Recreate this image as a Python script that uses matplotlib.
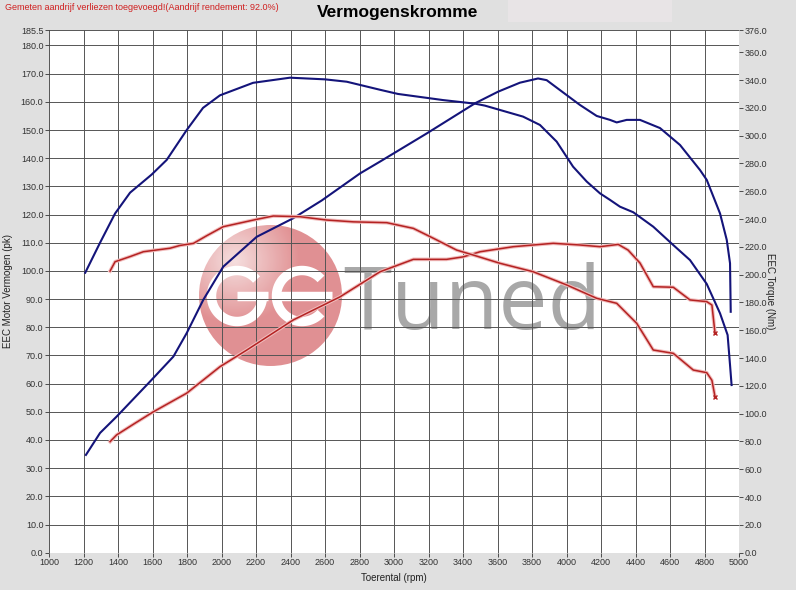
import matplotlib
matplotlib.use('Agg')
import matplotlib.pyplot as plt
import matplotlib.patheffects as pe
from matplotlib.patches import Ellipse, Rectangle
from matplotlib.lines import Line2D
from matplotlib.transforms import IdentityTransform
import numpy as np

plt.rcParams['font.family'] = ['Liberation Sans', 'DejaVu Sans']

# tuned (blue) power, pk
blue_pwr_rpm = [1214, 1296, 1392, 1585, 1721, 1798, 1894, 2010, 2204, 2416, 2581, 2803, 2919,
                3190, 3470, 3603, 3730, 3835, 3885, 4001, 4078, 4175, 4252, 4291, 4349, 4426,
                4542, 4658, 4774, 4813, 4890, 4929, 4948, 4952]
blue_pwr = [34.7, 42.5, 48.3, 60.7, 69.6, 77.9, 89.7, 101.5, 112.1, 118.7, 125.0, 134.6, 138.8,
            148.8, 159.5, 163.6, 166.8, 168.3, 167.7, 162.4, 158.9, 155.0, 153.6, 152.7, 153.6, 153.6,
            150.7, 144.7, 135.8, 132.3, 120.4, 111.0, 102.7, 85.5]

# tuned (blue) torque, Nm
blue_trq_rpm = [1210, 1296, 1383, 1470, 1595, 1682, 1798, 1893, 1991, 2183, 2397, 2600, 2726,
                2919, 3023, 3284, 3470, 3527, 3748, 3846, 3943, 4038, 4117, 4194, 4252, 4310,
                4387, 4503, 4619, 4716, 4813, 4890, 4934, 4948, 4957]
blue_trq = [201.4, 223, 244, 259, 272, 282.5, 304, 320, 329, 338, 341.7, 340.5, 338.8,
            333, 330, 325.6, 323, 321.6, 313.7, 307.7, 295.7, 277.7, 267, 258.5, 253.8, 248.9,
            244.9, 234.5, 221.3, 210.5, 193.3, 172.2, 156.6, 135, 120.6]

# stock (red) power, pk
red_pwr_rpm = [1354, 1392, 1500, 1605, 1798, 1991, 2146, 2300, 2416, 2687, 2919, 3112, 3305,
               3402, 3499, 3692, 3923, 4078, 4194, 4300, 4357, 4426, 4503, 4619, 4716, 4813,
               4843, 4861]
red_pwr = [39.4, 41.8, 46.0, 50.0, 56.6, 66.0, 71.9, 78.0, 82.6, 90.8, 99.7, 104.1, 104.1,
           105.0, 106.8, 108.6, 109.8, 109.2, 108.6, 109.4, 107.4, 102.8, 94.4, 94.2, 89.7, 89.1,
           87.9, 77.9]

# stock (red) torque, Nm
red_trq_rpm = [1354, 1383, 1470, 1547, 1701, 1759, 1837, 1914, 2010, 2204, 2300, 2455, 2610,
               2764, 2958, 3112, 3228, 3363, 3460, 3614, 3807, 4001, 4175, 4291, 4407, 4503,
               4619, 4735, 4813, 4843, 4861]
red_trq = [202.6, 209.3, 213, 216.5, 219, 221, 222.5, 228, 234.5, 239.8, 242.2, 241.7, 239.3,
           238, 237.4, 233.3, 226.2, 217.7, 214.1, 208.2, 202.1, 192.6, 183, 179.4, 165, 145.8,
           143.4, 131.4, 129.5, 124, 112.2]

x_ticks = list(range(1000, 5001, 200))
left_ticks = list(range(0, 181, 10)) + [185.5]
right_ticks = list(range(0, 361, 20)) + [376]

bg = '#e0e0e0'
W, H = 796, 590
fig = plt.figure(figsize=(W/100, H/100), dpi=100, facecolor=bg)
ax = fig.add_axes([49/W, (H-552.7)/H, 690/W, 522.7/H])
ax.set_facecolor('white')
ax2 = ax.twinx()

ax.set_xlim(1000, 5000)
ax.set_ylim(0, 185.5)
ax2.set_ylim(0, 376)
ax.set_xticks(x_ticks)
ax.set_yticks(left_ticks)
ax.set_yticklabels(['%.1f' % t for t in left_ticks])
ax2.set_yticks(right_ticks)
ax2.set_yticklabels(['%.1f' % t for t in right_ticks])
ax.grid(True, color='#555555', linewidth=0.7)
ax.set_axisbelow(False)
for a in (ax, ax2):
    for s in a.spines.values():
        s.set_visible(False)
    a.tick_params(labelsize=6.5, colors='#333333', length=3, width=0.6, pad=1)

# logo (watermark)
ell_w, ell_h = 2*71.5/690, 2*70.5/522.7
cx, cy = (270.5-49)/690, (552.7-295.5)/522.7
circ = Ellipse((cx, cy), ell_w, ell_h, transform=ax.transAxes, facecolor='none', edgecolor='none')
ax.add_patch(circ)
gx, gy = np.meshgrid(np.linspace(-1, 1, 200), np.linspace(-1, 1, 200))
d = np.sqrt((gx + 0.5)**2 + (gy + 0.5)**2)
grad = np.clip(d / 0.9, 0, 1)
c0 = np.array([0.96, 0.86, 0.86])
c1 = np.array([0.87, 0.52, 0.53])
img = c0[None, None, :] * (1 - grad[..., None]) + c1[None, None, :] * grad[..., None]
im = ax.imshow(img, extent=[cx-ell_w/2, cx+ell_w/2, cy-ell_h/2, cy+ell_h/2], origin='upper',
               transform=ax.transAxes, zorder=0.5, alpha=0.9, aspect='auto')
im.set_clip_path(circ)
ax.set_xlim(1000, 5000)
ax.set_ylim(0, 185.5)

# "GE" drawn as thin geometric strokes, pixel coords
lw_logo = 6.8


def stroke_arc(x0, y0, rad, t1, t2):
    t = np.radians(np.linspace(t1, t2, 80))
    ax.add_line(Line2D(x0 + rad*np.cos(t), (H - y0) + rad*np.sin(t), transform=IdentityTransform(),
                       color='white', lw=lw_logo, zorder=0.6, solid_capstyle='butt'))


def stroke_line(xa, xb, y0):
    ax.add_line(Line2D([xa, xb], [H - y0, H - y0], transform=IdentityTransform(),
                       color='white', lw=lw_logo, zorder=0.6, solid_capstyle='butt'))


stroke_arc(237, 296, 25.5, 40, 360)
stroke_line(237, 267.5, 296)
stroke_arc(302, 296, 25.5, 42, 318)
stroke_line(272, 332, 296)
ax.text((343-49)/690, (552.7-329)/522.7, 'Tuned', transform=ax.transAxes, color='#a8a8a8',
        fontsize=63, family='Open Sans', va='baseline', ha='left', zorder=0.6)

glow = [pe.Stroke(linewidth=2.6, foreground='#f1bcbc'), pe.Normal()]
ax.plot(red_pwr_rpm, red_pwr, color='#b42222', lw=1.1, path_effects=glow, zorder=3)
ax2.plot(red_trq_rpm, red_trq, color='#b42222', lw=1.1, path_effects=glow, zorder=3)
ax.plot(blue_pwr_rpm, blue_pwr, color='#14147a', lw=1.5, zorder=4)
ax2.plot(blue_trq_rpm, blue_trq, color='#14147a', lw=1.5, zorder=4)
ax.plot(red_pwr_rpm[-1], red_pwr[-1], 'x', color='#b42222', ms=3, zorder=4)
ax2.plot(red_trq_rpm[-1], red_trq[-1], 'x', color='#b42222', ms=3, zorder=4)

ax.set_xlabel('Toerental (rpm)', fontsize=7, color='#222222')
ax.xaxis.set_label_coords(0.5, -0.038)
ax.set_ylabel('EEC Motor Vermogen (pk)', fontsize=7, color='#222222')
ax.yaxis.set_label_coords(-0.052, 0.5)
ax2.set_ylabel('EEC Torque (Nm)', fontsize=7, rotation=270, color='#222222')
ax2.yaxis.set_label_coords(1.052, 0.5)

fig.patches.append(Rectangle((508/W, 1-22/H), 164/W, 22/H, transform=fig.transFigure,
                             facecolor='#e8e4e6', edgecolor='none'))
fig.text(5/W, 1-8/H, 'Gemeten aandrijf verliezen toegevoegd!(Aandrijf rendement: 92.0%)',
         color='#d02020', fontsize=6.5, va='center', ha='left')
fig.text(398/W, 1-12/H, 'Vermogenskromme', fontsize=12.5, fontweight='bold',
         va='center', ha='center', color='black')

fig.savefig('out.png', dpi=100, facecolor=bg)
